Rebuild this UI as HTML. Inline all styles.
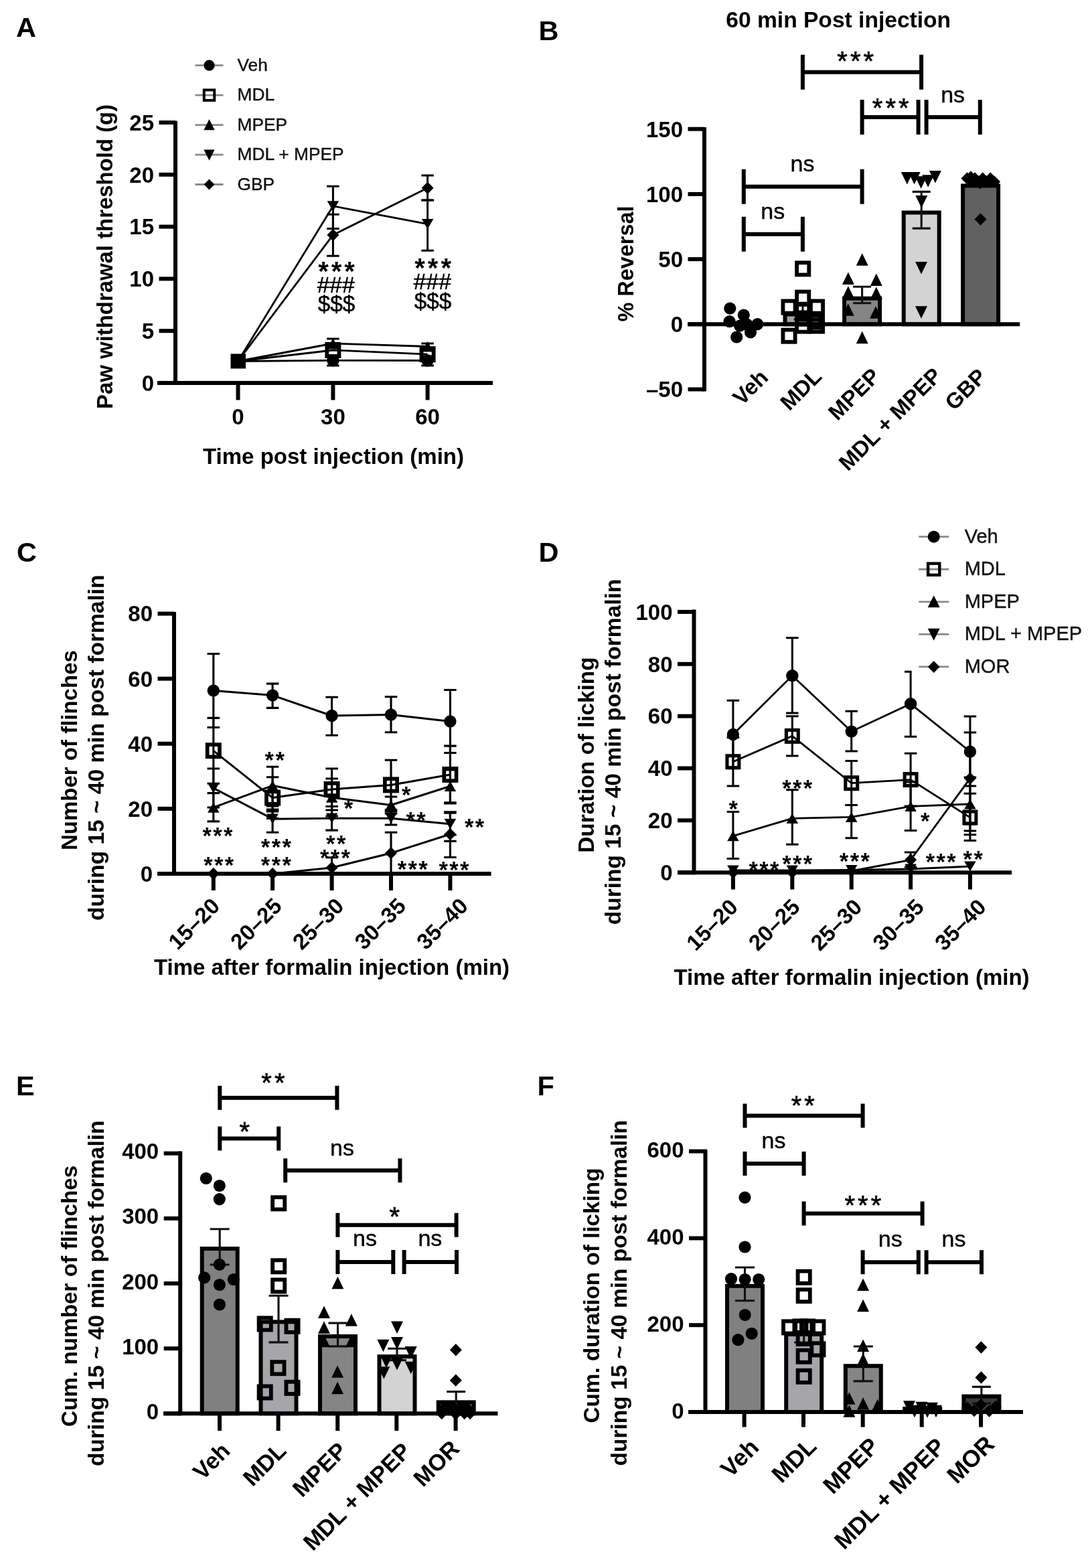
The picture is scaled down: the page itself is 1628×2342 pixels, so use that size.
<!DOCTYPE html>
<html lang="en"><head><meta charset="utf-8"><title>Figure</title>
<style>
html,body{margin:0;padding:0;background:#fff;}
body{width:1628px;height:2342px;overflow:hidden;}
svg{display:block;font-family:'Liberation Sans', Arial, Helvetica, sans-serif;}
</style></head><body>
<svg width="1628" height="2342" viewBox="0 0 1628 2342" role="img" aria-label="Figure panels A to F">
<rect width="1628" height="2342" fill="#fff"/>
<g id="fig">
<g id="panel-A">
<text x="24" y="55" font-size="41.5" font-weight="bold">A</text>
<path d="M262 180.5L262 575" stroke="#000" stroke-width="6"/>
<path d="M237.5 572L262 572" stroke="#000" stroke-width="6"/>
<text x="230" y="583.8" font-size="33" font-weight="bold" text-anchor="end">0</text>
<path d="M237.5 494.2L262 494.2" stroke="#000" stroke-width="6"/>
<text x="230" y="506" font-size="33" font-weight="bold" text-anchor="end">5</text>
<path d="M237.5 416.4L262 416.4" stroke="#000" stroke-width="6"/>
<text x="230" y="428.2" font-size="33" font-weight="bold" text-anchor="end">10</text>
<path d="M237.5 338.6L262 338.6" stroke="#000" stroke-width="6"/>
<text x="230" y="350.4" font-size="33" font-weight="bold" text-anchor="end">15</text>
<path d="M237.5 260.8L262 260.8" stroke="#000" stroke-width="6"/>
<text x="230" y="272.6" font-size="33" font-weight="bold" text-anchor="end">20</text>
<path d="M237.5 183L262 183" stroke="#000" stroke-width="6"/>
<text x="230" y="194.8" font-size="33" font-weight="bold" text-anchor="end">25</text>
<path d="M235 572L736 572" stroke="#000" stroke-width="6"/>
<path d="M355.5 572L355.5 597.5" stroke="#000" stroke-width="6"/>
<path d="M497.4 572L497.4 597.5" stroke="#000" stroke-width="6"/>
<path d="M638.6 572L638.6 597.5" stroke="#000" stroke-width="6"/>
<text x="355.5" y="634" font-size="33" font-weight="bold" text-anchor="middle">0</text>
<text x="497.4" y="634" font-size="33" font-weight="bold" text-anchor="middle">30</text>
<text x="638.6" y="634" font-size="33" font-weight="bold" text-anchor="middle">60</text>
<text x="498" y="692.7" font-size="33" font-weight="bold" text-anchor="middle">Time post injection (min)</text>
<text x="168.3" y="383.4" font-size="32.9" font-weight="bold" text-anchor="middle" transform="rotate(-90 168.3 383.4)">Paw withdrawal threshold (g)</text>
<path d="M291.5 97.7L333.5 97.7" stroke="#8a8a8a" stroke-width="2.8"/>
<circle cx="312.5" cy="97.7" r="8.1"/>
<text x="354.5" y="105.72" font-size="26.3" fill="#111" stroke="#111" stroke-width="0.4">Veh</text>
<path d="M291.5 142.15L333.5 142.15" stroke="#8a8a8a" stroke-width="2.8"/>
<rect x="304.76" y="134.41" width="15.48" height="15.48" fill="none" stroke="#000" stroke-width="3.96"/>
<text x="354.5" y="150.17" font-size="26.3" fill="#111" stroke="#111" stroke-width="0.4">MDL</text>
<path d="M291.5 186.6L333.5 186.6" stroke="#8a8a8a" stroke-width="2.8"/>
<path d="M312.5 178L320.6 194.2H304.4Z"/>
<text x="354.5" y="194.62" font-size="26.3" fill="#111" stroke="#111" stroke-width="0.4">MPEP</text>
<path d="M291.5 231.05L333.5 231.05" stroke="#8a8a8a" stroke-width="2.8"/>
<path d="M312.5 239.65L320.6 223.45H304.4Z"/>
<text x="354.5" y="239.07" font-size="26.3" fill="#111" stroke="#111" stroke-width="0.4">MDL + MPEP</text>
<path d="M291.5 275.5L333.5 275.5" stroke="#8a8a8a" stroke-width="2.8"/>
<path d="M312.5 267.4L320.38 275.5L312.5 283.6L304.62 275.5Z"/>
<text x="354.5" y="283.52" font-size="26.3" fill="#111" stroke="#111" stroke-width="0.4">GBP</text>
<polyline points="355.5,539.5 497.4,538.3 638.6,538.5" fill="none" stroke="#000" stroke-width="2.8" stroke-linejoin="round"/>
<polyline points="355.5,539.5 497.4,523 638.6,529.2" fill="none" stroke="#000" stroke-width="2.8" stroke-linejoin="round"/>
<polyline points="355.5,539.5 497.4,513 638.6,517.5" fill="none" stroke="#000" stroke-width="2.8" stroke-linejoin="round"/>
<polyline points="355.5,539.5 497.4,307.8 638.6,334.6" fill="none" stroke="#000" stroke-width="2.8" stroke-linejoin="round"/>
<polyline points="355.5,539.5 497.4,350.9 638.6,280.7" fill="none" stroke="#000" stroke-width="2.8" stroke-linejoin="round"/>
<path d="M497.4 278.2V341.5M488.15 278.2H506.65M488.15 341.5H506.65" fill="none" stroke="#000" stroke-width="3"/>
<path d="M497.4 320.3V382.2M488.15 320.3H506.65M488.15 382.2H506.65" fill="none" stroke="#000" stroke-width="3"/>
<path d="M638.6 262V299M629.35 262H647.85M629.35 299H647.85" fill="none" stroke="#000" stroke-width="3"/>
<path d="M638.6 299V374.2M629.35 299H647.85M629.35 374.2H647.85" fill="none" stroke="#000" stroke-width="3"/>
<path d="M497.4 506V520M488.15 506H506.65M488.15 520H506.65" fill="none" stroke="#000" stroke-width="3"/>
<path d="M638.6 513V524M629.35 513H647.85M629.35 524H647.85" fill="none" stroke="#000" stroke-width="3"/>
<path d="M497.4 531V546M488.15 531H506.65M488.15 546H506.65" fill="none" stroke="#000" stroke-width="3"/>
<path d="M638.6 532V546M629.35 532H647.85M629.35 546H647.85" fill="none" stroke="#000" stroke-width="3"/>
<circle cx="497.4" cy="538.3" r="9.2"/>
<circle cx="638.6" cy="538.5" r="9.2"/>
<path d="M497.4 505.4L506.15 520.6H488.65Z"/>
<path d="M638.6 509.9L647.35 525.1H629.85Z"/>
<rect x="488.32" y="513.92" width="18.15" height="18.15" fill="none" stroke="#000" stroke-width="5.85"/>
<rect x="629.52" y="520.12" width="18.15" height="18.15" fill="none" stroke="#000" stroke-width="5.85"/>
<path d="M497.4 315.4L506.15 300.2H488.65Z"/>
<path d="M638.6 342.2L647.35 327H629.85Z"/>
<path d="M497.4 341.65L506.4 350.9L497.4 360.15L488.4 350.9Z"/>
<path d="M638.6 271.45L647.6 280.7L638.6 289.95L629.6 280.7Z"/>
<rect x="344.5" y="528.5" width="22.5" height="22" fill="#000"/>
<text x="475.16" y="418.5" font-size="40" font-weight="bold" letter-spacing="4">***</text>
<text x="501.7" y="436.7" font-size="33.6" text-anchor="middle" stroke="#000" stroke-width="0.5">###</text>
<text x="502.5" y="465" font-size="33.3" text-anchor="middle" stroke="#000" stroke-width="0.5">$$$</text>
<text x="619.26" y="414" font-size="40" font-weight="bold" letter-spacing="4">***</text>
<text x="645.8" y="432.2" font-size="33.6" text-anchor="middle" stroke="#000" stroke-width="0.5">###</text>
<text x="646.6" y="460.5" font-size="33.3" text-anchor="middle" stroke="#000" stroke-width="0.5">$$$</text>
</g>
<g id="panel-B">
<text x="804.5" y="59.5" font-size="41.5" font-weight="bold">B</text>
<text x="1252.2" y="41.4" font-size="33.6" font-weight="bold" text-anchor="middle">60 min Post injection</text>
<path d="M1052 190L1052 584.5" stroke="#000" stroke-width="6"/>
<path d="M1027.5 581.5L1052 581.5" stroke="#000" stroke-width="6"/>
<text x="1020" y="593.3" font-size="33" font-weight="bold" text-anchor="end">–50</text>
<path d="M1027.5 484.3L1052 484.3" stroke="#000" stroke-width="6"/>
<text x="1020" y="496.1" font-size="33" font-weight="bold" text-anchor="end">0</text>
<path d="M1027.5 387.1L1052 387.1" stroke="#000" stroke-width="6"/>
<text x="1020" y="398.9" font-size="33" font-weight="bold" text-anchor="end">50</text>
<path d="M1027.5 289.9L1052 289.9" stroke="#000" stroke-width="6"/>
<text x="1020" y="301.7" font-size="33" font-weight="bold" text-anchor="end">100</text>
<path d="M1027.5 192.7L1052 192.7" stroke="#000" stroke-width="6"/>
<text x="1020" y="204.5" font-size="33" font-weight="bold" text-anchor="end">150</text>
<text x="945.7" y="394" font-size="32.4" font-weight="bold" text-anchor="middle" transform="rotate(-90 945.7 394)">% Reversal</text>
<rect x="1172.5" y="469.5" width="53" height="14.8" fill="#a5a5aa" stroke="#000" stroke-width="6"/>
<rect x="1261.1" y="445.7" width="53" height="38.6" fill="#858585" stroke="#000" stroke-width="6"/>
<rect x="1349.7" y="317.5" width="53" height="166.8" fill="#d3d3d3" stroke="#000" stroke-width="6"/>
<rect x="1438.1" y="277.4" width="53" height="206.9" fill="#616161" stroke="#000" stroke-width="6"/>
<path d="M1027 484.3L1523.2 484.3" stroke="#000" stroke-width="6"/>
<path d="M1287.6 428.2V452.8M1274.1 428.2H1301.1M1274.1 452.8H1301.1" fill="none" stroke="#111" stroke-width="3.1"/>
<path d="M1376.2 286.4V341.1M1362.7 286.4H1389.7M1362.7 341.1H1389.7" fill="none" stroke="#111" stroke-width="3.1"/>
<path d="M1199 456V477M1185.5 456H1212.5M1185.5 477H1212.5" fill="none" stroke="#111" stroke-width="3.1"/>
<circle cx="1090.3" cy="460.6" r="9.1"/>
<circle cx="1110.8" cy="470.6" r="9.1"/>
<circle cx="1089.6" cy="480.2" r="9.1"/>
<circle cx="1131.3" cy="484.1" r="9.1"/>
<circle cx="1105" cy="486.6" r="9.1"/>
<circle cx="1115.5" cy="484.5" r="9.1"/>
<circle cx="1121" cy="496.3" r="9.1"/>
<circle cx="1100.2" cy="503.5" r="9.1"/>
<rect x="1190.12" y="392.32" width="18.15" height="18.15" fill="none" stroke="#000" stroke-width="5.85"/>
<rect x="1190.12" y="435.62" width="18.15" height="18.15" fill="none" stroke="#000" stroke-width="5.85"/>
<rect x="1169.42" y="449.53" width="18.15" height="18.15" fill="none" stroke="#000" stroke-width="5.85"/>
<rect x="1210.92" y="449.53" width="18.15" height="18.15" fill="none" stroke="#000" stroke-width="5.85"/>
<rect x="1190.12" y="454.93" width="18.15" height="18.15" fill="none" stroke="#000" stroke-width="5.85"/>
<rect x="1190.12" y="466.43" width="18.15" height="18.15" fill="none" stroke="#000" stroke-width="5.85"/>
<rect x="1210.92" y="471.43" width="18.15" height="18.15" fill="none" stroke="#000" stroke-width="5.85"/>
<rect x="1190.12" y="477.53" width="18.15" height="18.15" fill="none" stroke="#000" stroke-width="5.85"/>
<rect x="1210.92" y="477.53" width="18.15" height="18.15" fill="none" stroke="#000" stroke-width="5.85"/>
<rect x="1169.42" y="492.62" width="18.15" height="18.15" fill="none" stroke="#000" stroke-width="5.85"/>
<path d="M1287.7 378.35L1296.7 396.85H1278.7Z"/>
<path d="M1266.9 406.45L1275.9 424.95H1257.9Z"/>
<path d="M1308.8 408.45L1317.8 426.95H1299.8Z"/>
<path d="M1266.9 427.25L1275.9 445.75H1257.9Z"/>
<path d="M1308.8 428.45L1317.8 446.95H1299.8Z"/>
<path d="M1266.8 453.35L1275.8 471.85H1257.8Z"/>
<path d="M1308 457.35L1317 475.85H1299Z"/>
<path d="M1287.7 494.85L1296.7 513.35H1278.7Z"/>
<path d="M1354.8 275.45L1363.8 256.95H1345.8Z"/>
<path d="M1365.6 275.45L1374.6 256.95H1356.6Z"/>
<path d="M1375.6 281.75L1384.6 263.25H1366.6Z"/>
<path d="M1386.1 279.75L1395.1 261.25H1377.1Z"/>
<path d="M1396.9 273.45L1405.9 254.95H1387.9Z"/>
<path d="M1376.3 310.45L1385.3 291.95H1367.3Z"/>
<path d="M1376 409.45L1385 390.95H1367Z"/>
<path d="M1376 475.75L1385 457.25H1367Z"/>
<path d="M1444.5 257.35L1453.5 266.6L1444.5 275.85L1435.5 266.6Z"/>
<path d="M1450.3 262.35L1459.3 271.6L1450.3 280.85L1441.3 271.6Z"/>
<path d="M1456.1 257.35L1465.1 266.6L1456.1 275.85L1447.1 266.6Z"/>
<path d="M1461.9 262.35L1470.9 271.6L1461.9 280.85L1452.9 271.6Z"/>
<path d="M1467.7 257.35L1476.7 266.6L1467.7 275.85L1458.7 266.6Z"/>
<path d="M1473.5 262.35L1482.5 271.6L1473.5 280.85L1464.5 271.6Z"/>
<path d="M1479.3 257.35L1488.3 266.6L1479.3 275.85L1470.3 266.6Z"/>
<path d="M1485.1 262.35L1494.1 271.6L1485.1 280.85L1476.1 271.6Z"/>
<path d="M1450 255.35L1459 264.6L1450 273.85L1441 264.6Z"/>
<path d="M1464 264.05L1473 273.3L1464 282.55L1455 273.3Z"/>
<path d="M1464.5 318.35L1473.5 327.6L1464.5 336.85L1455.5 327.6Z"/>
<path d="M1198.9 107.8H1376.1M1198.9 81.8V133.8M1376.1 81.8V133.8" fill="none" stroke="#000" stroke-width="6"/>
<text x="1250.36" y="104.9" font-size="40" stroke="#000" stroke-width="0.7" letter-spacing="4">***</text>
<path d="M1287.6 174.9H1371.6M1287.6 148.9V200.9M1371.6 148.9V200.9" fill="none" stroke="#000" stroke-width="6"/>
<text x="1302.86" y="175.1" font-size="40" stroke="#000" stroke-width="0.7" letter-spacing="4">***</text>
<path d="M1383.6 174.9H1463.8M1383.6 148.9V200.9M1463.8 148.9V200.9" fill="none" stroke="#000" stroke-width="6"/>
<text x="1423.1" y="152.9" font-size="34" text-anchor="middle" stroke="#000" stroke-width="0.4">ns</text>
<path d="M1110.8 278.7H1287.6M1110.8 252.7V304.7M1287.6 252.7V304.7" fill="none" stroke="#000" stroke-width="6"/>
<text x="1198.5" y="256.1" font-size="34" text-anchor="middle" stroke="#000" stroke-width="0.4">ns</text>
<path d="M1110.8 349.8H1198.9M1110.8 323.8V375.8M1198.9 323.8V375.8" fill="none" stroke="#000" stroke-width="6"/>
<text x="1154.2" y="327" font-size="34" text-anchor="middle" stroke="#000" stroke-width="0.4">ns</text>
<text x="1149.2" y="565.8" font-size="32.8" font-weight="bold" text-anchor="end" transform="rotate(-45 1149.2 565.8)">Veh</text>
<text x="1229.3" y="564.4" font-size="32.8" font-weight="bold" text-anchor="end" transform="rotate(-45 1229.3 564.4)">MDL</text>
<text x="1316.4" y="563.7" font-size="32.8" font-weight="bold" text-anchor="end" transform="rotate(-45 1316.4 563.7)">MPEP</text>
<text x="1408.4" y="562.9" font-size="32.8" font-weight="bold" text-anchor="end" transform="rotate(-45 1408.4 562.9)">MDL + MPEP</text>
<text x="1475.2" y="564.2" font-size="32.8" font-weight="bold" text-anchor="end" transform="rotate(-45 1475.2 564.2)">GBP</text>
</g>
<g id="panel-C">
<text x="25" y="839" font-size="41.5" font-weight="bold">C</text>
<path d="M260 914L260 1308" stroke="#000" stroke-width="6"/>
<path d="M235.5 1305L260 1305" stroke="#000" stroke-width="6"/>
<text x="228" y="1316.8" font-size="33" font-weight="bold" text-anchor="end">0</text>
<path d="M235.5 1207.9L260 1207.9" stroke="#000" stroke-width="6"/>
<text x="228" y="1219.7" font-size="33" font-weight="bold" text-anchor="end">20</text>
<path d="M235.5 1110.8L260 1110.8" stroke="#000" stroke-width="6"/>
<text x="228" y="1122.6" font-size="33" font-weight="bold" text-anchor="end">40</text>
<path d="M235.5 1013.7L260 1013.7" stroke="#000" stroke-width="6"/>
<text x="228" y="1025.5" font-size="33" font-weight="bold" text-anchor="end">60</text>
<path d="M235.5 916.6L260 916.6" stroke="#000" stroke-width="6"/>
<text x="228" y="928.4" font-size="33" font-weight="bold" text-anchor="end">80</text>
<text x="115.1" y="1120.6" font-size="33" font-weight="bold" text-anchor="middle" transform="rotate(-90 115.1 1120.6)">Number of flinches</text>
<text x="155.5" y="1116.8" font-size="33.5" font-weight="bold" text-anchor="middle" transform="rotate(-90 155.5 1116.8)">during 15 ~ 40 min post formalin</text>
<polyline points="318.8,1031.4 407.1,1038.6 495.6,1069 584,1067.5 672.4,1077.5" fill="none" stroke="#000" stroke-width="3" stroke-linejoin="round"/>
<polyline points="318.8,1121.3 407.1,1191.6 495.6,1179 584,1172.4 672.4,1157" fill="none" stroke="#000" stroke-width="3" stroke-linejoin="round"/>
<polyline points="318.8,1206.2 407.1,1173.3 495.6,1191.2 584,1202.5 672.4,1174.3" fill="none" stroke="#000" stroke-width="3" stroke-linejoin="round"/>
<polyline points="318.8,1177.1 407.1,1223.2 495.6,1222.2 584,1222.2 672.4,1230.7" fill="none" stroke="#000" stroke-width="3" stroke-linejoin="round"/>
<polyline points="318.8,1305 407.1,1305 495.6,1295.9 584,1274.2 672.4,1246" fill="none" stroke="#000" stroke-width="3" stroke-linejoin="round"/>
<path d="M318.8 976.5V1086.5M309.55 976.5H328.05M309.55 1086.5H328.05" fill="none" stroke="#000" stroke-width="3.1"/>
<path d="M318.8 1072.4V1170.3M309.55 1072.4H328.05M309.55 1170.3H328.05" fill="none" stroke="#000" stroke-width="3.1"/>
<path d="M318.8 1148V1206M309.55 1148H328.05M309.55 1206H328.05" fill="none" stroke="#000" stroke-width="3.1"/>
<path d="M318.8 1184.6V1226.9M309.55 1184.6H328.05M309.55 1226.9H328.05" fill="none" stroke="#000" stroke-width="3.1"/>
<path d="M407.1 1021.1V1057.4M397.85 1021.1H416.35M397.85 1057.4H416.35" fill="none" stroke="#000" stroke-width="3.1"/>
<path d="M407.1 1145.2V1201.4M397.85 1145.2H416.35M397.85 1201.4H416.35" fill="none" stroke="#000" stroke-width="3.1"/>
<path d="M407.1 1160.8V1222.4M397.85 1160.8H416.35M397.85 1222.4H416.35" fill="none" stroke="#000" stroke-width="3.1"/>
<path d="M407.1 1204V1243.3M397.85 1204H416.35M397.85 1243.3H416.35" fill="none" stroke="#000" stroke-width="3.1"/>
<path d="M407.1 1209V1212M397.85 1209H416.35M397.85 1212H416.35" fill="none" stroke="#000" stroke-width="3.1"/>
<path d="M495.6 1041.2V1098.2M486.35 1041.2H504.85M486.35 1098.2H504.85" fill="none" stroke="#000" stroke-width="3.1"/>
<path d="M495.6 1148V1210M486.35 1148H504.85M486.35 1210H504.85" fill="none" stroke="#000" stroke-width="3.1"/>
<path d="M495.6 1163V1219M486.35 1163H504.85M486.35 1219H504.85" fill="none" stroke="#000" stroke-width="3.1"/>
<path d="M495.6 1204.5V1240.1M486.35 1204.5H504.85M486.35 1240.1H504.85" fill="none" stroke="#000" stroke-width="3.1"/>
<path d="M495.6 1280.8V1305M486.35 1280.8H504.85M486.35 1305H504.85" fill="none" stroke="#000" stroke-width="3.1"/>
<path d="M584 1040.8V1093.8M574.75 1040.8H593.25M574.75 1093.8H593.25" fill="none" stroke="#000" stroke-width="3.1"/>
<path d="M584 1135.2V1209.6M574.75 1135.2H593.25M574.75 1209.6H593.25" fill="none" stroke="#000" stroke-width="3.1"/>
<path d="M584 1190V1215M574.75 1190H593.25M574.75 1215H593.25" fill="none" stroke="#000" stroke-width="3.1"/>
<path d="M584 1212V1232M574.75 1212H593.25M574.75 1232H593.25" fill="none" stroke="#000" stroke-width="3.1"/>
<path d="M584 1243.2V1305M574.75 1243.2H593.25M574.75 1305H593.25" fill="none" stroke="#000" stroke-width="3.1"/>
<path d="M672.4 1030.5V1124.5M663.15 1030.5H681.65M663.15 1124.5H681.65" fill="none" stroke="#000" stroke-width="3.1"/>
<path d="M672.4 1114.1V1199.9M663.15 1114.1H681.65M663.15 1199.9H681.65" fill="none" stroke="#000" stroke-width="3.1"/>
<path d="M672.4 1150V1198.7M663.15 1150H681.65M663.15 1198.7H681.65" fill="none" stroke="#000" stroke-width="3.1"/>
<path d="M672.4 1212.8V1280.5M663.15 1212.8H681.65M663.15 1280.5H681.65" fill="none" stroke="#000" stroke-width="3.1"/>
<path d="M672.4 1214.1V1247M663.15 1214.1H681.65M663.15 1247H681.65" fill="none" stroke="#000" stroke-width="3.1"/>
<path d="M672.4 1256.4V1256.4M663.15 1256.4H681.65M663.15 1256.4H681.65" fill="none" stroke="#000" stroke-width="3.1"/>
<path d="M235 1305L733.5 1305" stroke="#000" stroke-width="6"/>
<path d="M318.8 1305L318.8 1330" stroke="#000" stroke-width="6"/>
<path d="M407.1 1305L407.1 1330" stroke="#000" stroke-width="6"/>
<path d="M495.6 1305L495.6 1330" stroke="#000" stroke-width="6"/>
<path d="M584 1305L584 1330" stroke="#000" stroke-width="6"/>
<path d="M672.4 1305L672.4 1330" stroke="#000" stroke-width="6"/>
<circle cx="318.8" cy="1031.4" r="9.2"/>
<circle cx="407.1" cy="1038.6" r="9.2"/>
<circle cx="495.6" cy="1069" r="9.2"/>
<circle cx="584" cy="1067.5" r="9.2"/>
<circle cx="672.4" cy="1077.5" r="9.2"/>
<path d="M318.8 1198.6L327.55 1213.8H310.05Z"/>
<path d="M407.1 1165.7L415.85 1180.9H398.35Z"/>
<path d="M495.6 1183.6L504.35 1198.8H486.85Z"/>
<path d="M584 1194.9L592.75 1210.1H575.25Z"/>
<path d="M672.4 1166.7L681.15 1181.9H663.65Z"/>
<path d="M318.8 1184.7L327.55 1169.5H310.05Z"/>
<path d="M407.1 1230.8L415.85 1215.6H398.35Z"/>
<path d="M495.6 1229.8L504.35 1214.6H486.85Z"/>
<path d="M584 1229.8L592.75 1214.6H575.25Z"/>
<path d="M672.4 1238.3L681.15 1223.1H663.65Z"/>
<path d="M318.8 1295.75L327.8 1305L318.8 1314.25L309.8 1305Z"/>
<path d="M407.1 1295.75L416.1 1305L407.1 1314.25L398.1 1305Z"/>
<path d="M495.6 1286.65L504.6 1295.9L495.6 1305.15L486.6 1295.9Z"/>
<path d="M584 1264.95L593 1274.2L584 1283.45L575 1274.2Z"/>
<path d="M672.4 1236.75L681.4 1246L672.4 1255.25L663.4 1246Z"/>
<rect x="309.65" y="1112.15" width="18.3" height="18.3" fill="none" stroke="#000" stroke-width="5.7"/>
<rect x="397.95" y="1182.45" width="18.3" height="18.3" fill="none" stroke="#000" stroke-width="5.7"/>
<rect x="486.45" y="1169.85" width="18.3" height="18.3" fill="none" stroke="#000" stroke-width="5.7"/>
<rect x="574.85" y="1163.25" width="18.3" height="18.3" fill="none" stroke="#000" stroke-width="5.7"/>
<rect x="663.25" y="1147.85" width="18.3" height="18.3" fill="none" stroke="#000" stroke-width="5.7"/>
<text x="302.47" y="1259.75" font-size="34.5" font-weight="bold" letter-spacing="2.4">***</text>
<text x="304.17" y="1304.25" font-size="34.5" font-weight="bold" letter-spacing="2.4">***</text>
<text x="395.58" y="1147.25" font-size="34.5" font-weight="bold" letter-spacing="2.4">**</text>
<text x="389.87" y="1276.95" font-size="34.5" font-weight="bold" letter-spacing="2.4">***</text>
<text x="389.87" y="1304.25" font-size="34.5" font-weight="bold" letter-spacing="2.4">***</text>
<text x="513.79" y="1218.75" font-size="34.5" font-weight="bold">*</text>
<text x="487.08" y="1272.05" font-size="34.5" font-weight="bold" letter-spacing="2.4">**</text>
<text x="477.97" y="1293.25" font-size="34.5" font-weight="bold" letter-spacing="2.4">***</text>
<text x="599.89" y="1199.05" font-size="34.5" font-weight="bold">*</text>
<text x="606.38" y="1236.55" font-size="34.5" font-weight="bold" letter-spacing="2.4">**</text>
<text x="593.67" y="1309.85" font-size="34.5" font-weight="bold" letter-spacing="2.4">***</text>
<text x="693.98" y="1247.05" font-size="34.5" font-weight="bold" letter-spacing="2.4">**</text>
<text x="655.47" y="1311.25" font-size="34.5" font-weight="bold" letter-spacing="2.4">***</text>
<text x="330.2" y="1355.3" font-size="33" font-weight="bold" text-anchor="end" transform="rotate(-45 330.2 1355.3)">15–20</text>
<text x="422.9" y="1355.3" font-size="33" font-weight="bold" text-anchor="end" transform="rotate(-45 422.9 1355.3)">20–25</text>
<text x="515.6" y="1355.3" font-size="33" font-weight="bold" text-anchor="end" transform="rotate(-45 515.6 1355.3)">25–30</text>
<text x="608.3" y="1355.3" font-size="33" font-weight="bold" text-anchor="end" transform="rotate(-45 608.3 1355.3)">30–35</text>
<text x="701" y="1355.3" font-size="33" font-weight="bold" text-anchor="end" transform="rotate(-45 701 1355.3)">35–40</text>
<text x="495.5" y="1455.6" font-size="33" font-weight="bold" text-anchor="middle">Time after formalin injection (min)</text>
</g>
<g id="panel-D">
<text x="804.5" y="839" font-size="41.5" font-weight="bold">D</text>
<path d="M1036.5 910.5L1036.5 1306.2" stroke="#000" stroke-width="6"/>
<path d="M1012 1303.2L1036.5 1303.2" stroke="#000" stroke-width="6"/>
<text x="1004.5" y="1315" font-size="33" font-weight="bold" text-anchor="end">0</text>
<path d="M1012 1225.35L1036.5 1225.35" stroke="#000" stroke-width="6"/>
<text x="1004.5" y="1237.15" font-size="33" font-weight="bold" text-anchor="end">20</text>
<path d="M1012 1147.5L1036.5 1147.5" stroke="#000" stroke-width="6"/>
<text x="1004.5" y="1159.3" font-size="33" font-weight="bold" text-anchor="end">40</text>
<path d="M1012 1069.65L1036.5 1069.65" stroke="#000" stroke-width="6"/>
<text x="1004.5" y="1081.45" font-size="33" font-weight="bold" text-anchor="end">60</text>
<path d="M1012 991.8L1036.5 991.8" stroke="#000" stroke-width="6"/>
<text x="1004.5" y="1003.6" font-size="33" font-weight="bold" text-anchor="end">80</text>
<path d="M1012 913.95L1036.5 913.95" stroke="#000" stroke-width="6"/>
<text x="1004.5" y="925.75" font-size="33" font-weight="bold" text-anchor="end">100</text>
<text x="887" y="1127.6" font-size="33.3" font-weight="bold" text-anchor="middle" transform="rotate(-90 887 1127.6)">Duration of licking</text>
<text x="927.1" y="1123" font-size="33.5" font-weight="bold" text-anchor="middle" transform="rotate(-90 927.1 1123)">during 15 ~ 40 min post formalin</text>
<polyline points="1094.9,1097 1183.3,1009.2 1271.7,1092.6 1360.1,1051.3 1448.9,1122.7" fill="none" stroke="#000" stroke-width="2.8" stroke-linejoin="round"/>
<polyline points="1094.9,1137.7 1183.3,1099.4 1271.7,1169.7 1360.1,1164.6 1448.9,1221" fill="none" stroke="#000" stroke-width="2.8" stroke-linejoin="round"/>
<polyline points="1094.9,1248.6 1183.3,1222.3 1271.7,1220.4 1360.1,1204.4 1448.9,1201" fill="none" stroke="#000" stroke-width="2.8" stroke-linejoin="round"/>
<polyline points="1094.9,1300 1183.3,1300 1271.7,1299.5 1360.1,1298 1448.9,1294" fill="none" stroke="#000" stroke-width="2.8" stroke-linejoin="round"/>
<polyline points="1094.9,1303 1183.3,1303 1271.7,1301 1360.1,1284.3 1448.9,1162.7" fill="none" stroke="#000" stroke-width="2.8" stroke-linejoin="round"/>
<path d="M1094.9 1046.2V1147.8M1085.65 1046.2H1104.15M1085.65 1147.8H1104.15" fill="none" stroke="#000" stroke-width="3"/>
<path d="M1094.9 1101.4V1174M1085.65 1101.4H1104.15M1085.65 1174H1104.15" fill="none" stroke="#000" stroke-width="3"/>
<path d="M1094.9 1212.6V1282.4M1085.65 1212.6H1104.15M1085.65 1282.4H1104.15" fill="none" stroke="#000" stroke-width="3"/>
<path d="M1183.3 952.8V1065M1174.05 952.8H1192.55M1174.05 1065H1192.55" fill="none" stroke="#000" stroke-width="3"/>
<path d="M1183.3 1069.7V1128.9M1174.05 1069.7H1192.55M1174.05 1128.9H1192.55" fill="none" stroke="#000" stroke-width="3"/>
<path d="M1183.3 1179.7V1261.2M1174.05 1179.7H1192.55M1174.05 1261.2H1192.55" fill="none" stroke="#000" stroke-width="3"/>
<path d="M1271.7 1062.2V1122M1262.45 1062.2H1280.95M1262.45 1122H1280.95" fill="none" stroke="#000" stroke-width="3"/>
<path d="M1271.7 1136.4V1202.4M1262.45 1136.4H1280.95M1262.45 1202.4H1280.95" fill="none" stroke="#000" stroke-width="3"/>
<path d="M1271.7 1202.4V1251.8M1262.45 1202.4H1280.95M1262.45 1251.8H1280.95" fill="none" stroke="#000" stroke-width="3"/>
<path d="M1360.1 1100.2V1100.2M1350.85 1100.2H1369.35M1350.85 1100.2H1369.35" fill="none" stroke="#000" stroke-width="3"/>
<path d="M1360.1 1125.2V1204M1350.85 1125.2H1369.35M1350.85 1204H1369.35" fill="none" stroke="#000" stroke-width="3"/>
<path d="M1360.1 1168V1240.5M1350.85 1168H1369.35M1350.85 1240.5H1369.35" fill="none" stroke="#000" stroke-width="3"/>
<path d="M1360.1 1273V1295M1350.85 1273H1369.35M1350.85 1295H1369.35" fill="none" stroke="#000" stroke-width="3"/>
<path d="M1448.9 1070.1V1174M1439.65 1070.1H1458.15M1439.65 1174H1458.15" fill="none" stroke="#000" stroke-width="3"/>
<path d="M1448.9 1094.1V1231M1439.65 1094.1H1458.15M1439.65 1231H1458.15" fill="none" stroke="#000" stroke-width="3"/>
<path d="M1448.9 1185.3V1255.6M1439.65 1185.3H1458.15M1439.65 1255.6H1458.15" fill="none" stroke="#000" stroke-width="3"/>
<path d="M1448.9 1161V1241.1M1439.65 1161H1458.15M1439.65 1241.1H1458.15" fill="none" stroke="#000" stroke-width="3"/>
<path d="M1448.9 1246.7V1246.7M1439.65 1246.7H1458.15M1439.65 1246.7H1458.15" fill="none" stroke="#000" stroke-width="3"/>
<path d="M1360.1 1100.2V1003.3H1351.1" fill="none" stroke="#000" stroke-width="3"/>
<path d="M1012 1303.2L1511 1303.2" stroke="#000" stroke-width="6"/>
<path d="M1094.9 1303.2L1094.9 1328.5" stroke="#000" stroke-width="6"/>
<path d="M1183.3 1303.2L1183.3 1328.5" stroke="#000" stroke-width="6"/>
<path d="M1271.7 1303.2L1271.7 1328.5" stroke="#000" stroke-width="6"/>
<path d="M1360.1 1303.2L1360.1 1328.5" stroke="#000" stroke-width="6"/>
<path d="M1448.9 1303.2L1448.9 1328.5" stroke="#000" stroke-width="6"/>
<circle cx="1094.9" cy="1097" r="9.2"/>
<circle cx="1183.3" cy="1009.2" r="9.2"/>
<circle cx="1271.7" cy="1092.6" r="9.2"/>
<circle cx="1360.1" cy="1051.3" r="9.2"/>
<circle cx="1448.9" cy="1122.7" r="9.2"/>
<path d="M1094.9 1241L1103.65 1256.2H1086.15Z"/>
<path d="M1183.3 1214.7L1192.05 1229.9H1174.55Z"/>
<path d="M1271.7 1212.8L1280.45 1228H1262.95Z"/>
<path d="M1360.1 1196.8L1368.85 1212H1351.35Z"/>
<path d="M1448.9 1193.4L1457.65 1208.6H1440.15Z"/>
<path d="M1094.9 1307.6L1103.65 1292.4H1086.15Z"/>
<path d="M1183.3 1307.6L1192.05 1292.4H1174.55Z"/>
<path d="M1271.7 1307.1L1280.45 1291.9H1262.95Z"/>
<path d="M1360.1 1305.6L1368.85 1290.4H1351.35Z"/>
<path d="M1448.9 1301.6L1457.65 1286.4H1440.15Z"/>
<path d="M1094.9 1293.75L1103.9 1303L1094.9 1312.25L1085.9 1303Z"/>
<path d="M1183.3 1293.75L1192.3 1303L1183.3 1312.25L1174.3 1303Z"/>
<path d="M1271.7 1291.75L1280.7 1301L1271.7 1310.25L1262.7 1301Z"/>
<path d="M1360.1 1275.05L1369.1 1284.3L1360.1 1293.55L1351.1 1284.3Z"/>
<path d="M1448.9 1153.45L1457.9 1162.7L1448.9 1171.95L1439.9 1162.7Z"/>
<rect x="1085.95" y="1128.75" width="17.9" height="17.9" fill="none" stroke="#000" stroke-width="5.1"/>
<rect x="1174.35" y="1090.45" width="17.9" height="17.9" fill="none" stroke="#000" stroke-width="5.1"/>
<rect x="1262.75" y="1160.75" width="17.9" height="17.9" fill="none" stroke="#000" stroke-width="5.1"/>
<rect x="1351.15" y="1155.65" width="17.9" height="17.9" fill="none" stroke="#000" stroke-width="5.1"/>
<rect x="1439.95" y="1212.05" width="17.9" height="17.9" fill="none" stroke="#000" stroke-width="5.1"/>
<text x="1088.59" y="1219.55" font-size="34.5" font-weight="bold">*</text>
<text x="1118.47" y="1310.95" font-size="34.5" font-weight="bold" letter-spacing="2.4">***</text>
<text x="1168.17" y="1189.45" font-size="34.5" font-weight="bold" letter-spacing="2.4">***</text>
<text x="1168.17" y="1301.55" font-size="34.5" font-weight="bold" letter-spacing="2.4">***</text>
<text x="1253.87" y="1298.45" font-size="34.5" font-weight="bold" letter-spacing="2.4">***</text>
<text x="1375.09" y="1237.85" font-size="34.5" font-weight="bold">*</text>
<text x="1382.67" y="1298.65" font-size="34.5" font-weight="bold" letter-spacing="2.4">***</text>
<text x="1438.58" y="1294.55" font-size="34.5" font-weight="bold" letter-spacing="2.4">**</text>
<text x="1104" y="1356.8" font-size="33" font-weight="bold" text-anchor="end" transform="rotate(-45 1104 1356.8)">15–20</text>
<text x="1196.7" y="1356.8" font-size="33" font-weight="bold" text-anchor="end" transform="rotate(-45 1196.7 1356.8)">20–25</text>
<text x="1289.4" y="1356.8" font-size="33" font-weight="bold" text-anchor="end" transform="rotate(-45 1289.4 1356.8)">25–30</text>
<text x="1382.1" y="1356.8" font-size="33" font-weight="bold" text-anchor="end" transform="rotate(-45 1382.1 1356.8)">30–35</text>
<text x="1474.8" y="1356.8" font-size="33" font-weight="bold" text-anchor="end" transform="rotate(-45 1474.8 1356.8)">35–40</text>
<text x="1272" y="1471" font-size="33" font-weight="bold" text-anchor="middle">Time after formalin injection (min)</text>
<path d="M1372.2 801.7L1417.2 801.7" stroke="#8a8a8a" stroke-width="2.8"/>
<circle cx="1394.7" cy="801.7" r="9"/>
<text x="1440.7" y="810.68" font-size="29" fill="#111" stroke="#111" stroke-width="0.4">Veh</text>
<path d="M1372.2 850.25L1417.2 850.25" stroke="#8a8a8a" stroke-width="2.8"/>
<rect x="1386.1" y="841.65" width="17.2" height="17.2" fill="none" stroke="#000" stroke-width="4.4"/>
<text x="1440.7" y="859.23" font-size="29" fill="#111" stroke="#111" stroke-width="0.4">MDL</text>
<path d="M1372.2 898.8L1417.2 898.8" stroke="#8a8a8a" stroke-width="2.8"/>
<path d="M1394.7 889.3L1403.7 907.3H1385.7Z"/>
<text x="1440.7" y="907.78" font-size="29" fill="#111" stroke="#111" stroke-width="0.4">MPEP</text>
<path d="M1372.2 947.35L1417.2 947.35" stroke="#8a8a8a" stroke-width="2.8"/>
<path d="M1394.7 956.85L1403.7 938.85H1385.7Z"/>
<text x="1440.7" y="956.33" font-size="29" fill="#111" stroke="#111" stroke-width="0.4">MDL + MPEP</text>
<path d="M1372.2 995.9L1417.2 995.9" stroke="#8a8a8a" stroke-width="2.8"/>
<path d="M1394.7 986.9L1403.45 995.9L1394.7 1004.9L1385.95 995.9Z"/>
<text x="1440.7" y="1004.88" font-size="29" fill="#111" stroke="#111" stroke-width="0.4">MOR</text>
</g>
<g id="panel-E">
<text x="24" y="1636" font-size="41.5" font-weight="bold">E</text>
<path d="M269.2 1719.6L269.2 2114.3" stroke="#000" stroke-width="6"/>
<path d="M244.7 2111.3L269.2 2111.3" stroke="#000" stroke-width="6"/>
<text x="237.2" y="2119.9" font-size="33" font-weight="bold" text-anchor="end">0</text>
<path d="M244.7 2014.15L269.2 2014.15" stroke="#000" stroke-width="6"/>
<text x="237.2" y="2022.75" font-size="33" font-weight="bold" text-anchor="end">100</text>
<path d="M244.7 1917L269.2 1917" stroke="#000" stroke-width="6"/>
<text x="237.2" y="1925.6" font-size="33" font-weight="bold" text-anchor="end">200</text>
<path d="M244.7 1819.85L269.2 1819.85" stroke="#000" stroke-width="6"/>
<text x="237.2" y="1828.45" font-size="33" font-weight="bold" text-anchor="end">300</text>
<path d="M244.7 1722.7L269.2 1722.7" stroke="#000" stroke-width="6"/>
<text x="237.2" y="1731.3" font-size="33" font-weight="bold" text-anchor="end">400</text>
<text x="114.9" y="1935.9" font-size="33.3" font-weight="bold" text-anchor="middle" transform="rotate(-90 114.9 1935.9)">Cum. number of flinches</text>
<text x="155" y="1931.7" font-size="33.5" font-weight="bold" text-anchor="middle" transform="rotate(-90 155 1931.7)">during 15 ~ 40 min post formalin</text>
<rect x="301.7" y="1865" width="53" height="246.3" fill="#808080" stroke="#000" stroke-width="6"/>
<rect x="389.5" y="1974.4" width="53" height="136.9" fill="#a5a5aa" stroke="#000" stroke-width="6"/>
<rect x="478" y="1996" width="53" height="115.3" fill="#858585" stroke="#000" stroke-width="6"/>
<rect x="566.5" y="2026.1" width="53" height="85.2" fill="#d3d3d3" stroke="#000" stroke-width="6"/>
<rect x="654.7" y="2094.4" width="53" height="16.9" fill="#616161" stroke="#000" stroke-width="6"/>
<path d="M244 2111.3L743.4 2111.3" stroke="#000" stroke-width="6"/>
<path d="M328 2111.3L328 2137.1" stroke="#000" stroke-width="6"/>
<path d="M415.6 2111.3L415.6 2137.1" stroke="#000" stroke-width="6"/>
<path d="M504.2 2111.3L504.2 2137.1" stroke="#000" stroke-width="6"/>
<path d="M592.3 2111.3L592.3 2137.1" stroke="#000" stroke-width="6"/>
<path d="M680.6 2111.3L680.6 2137.1" stroke="#000" stroke-width="6"/>
<path d="M328.2 1835.7V1889M313.7 1835.7H342.7M313.7 1889H342.7" fill="none" stroke="#111" stroke-width="3.1"/>
<path d="M416 1935.3V2004.9M401.5 1935.3H430.5M401.5 2004.9H430.5" fill="none" stroke="#111" stroke-width="3.1"/>
<path d="M504.5 1976.1V2010.9M490.5 1976.1H518.5M490.5 2010.9H518.5" fill="none" stroke="#111" stroke-width="3.1"/>
<path d="M593 2014.3V2031.6M579 2014.3H607M579 2031.6H607" fill="none" stroke="#111" stroke-width="3.1"/>
<path d="M681.2 2078.6V2104M667.2 2078.6H695.2M667.2 2104H695.2" fill="none" stroke="#111" stroke-width="3.1"/>
<circle cx="307.8" cy="1760" r="9.1"/>
<circle cx="327.8" cy="1771" r="9.1"/>
<circle cx="327.8" cy="1791.1" r="9.1"/>
<circle cx="327.8" cy="1888.8" r="9.1"/>
<circle cx="305.2" cy="1908.4" r="9.1"/>
<circle cx="348.8" cy="1911" r="9.1"/>
<circle cx="327.9" cy="1919" r="9.1"/>
<circle cx="327.9" cy="1948.5" r="9.1"/>
<rect x="407.12" y="1788.22" width="18.15" height="18.15" fill="none" stroke="#000" stroke-width="5.85"/>
<rect x="407.12" y="1882.22" width="18.15" height="18.15" fill="none" stroke="#000" stroke-width="5.85"/>
<rect x="407.12" y="1911.33" width="18.15" height="18.15" fill="none" stroke="#000" stroke-width="5.85"/>
<rect x="386.62" y="1968.33" width="18.15" height="18.15" fill="none" stroke="#000" stroke-width="5.85"/>
<rect x="427.43" y="1971.72" width="18.15" height="18.15" fill="none" stroke="#000" stroke-width="5.85"/>
<rect x="406.32" y="2034.12" width="18.15" height="18.15" fill="none" stroke="#000" stroke-width="5.85"/>
<rect x="386.62" y="2070.43" width="18.15" height="18.15" fill="none" stroke="#000" stroke-width="5.85"/>
<rect x="427.43" y="2063.83" width="18.15" height="18.15" fill="none" stroke="#000" stroke-width="5.85"/>
<path d="M504.4 1906.75L513.4 1925.25H495.4Z"/>
<path d="M484 1950.55L493 1969.05H475Z"/>
<path d="M524.8 1962.15L533.8 1980.65H515.8Z"/>
<path d="M484 1973.45L493 1991.95H475Z"/>
<path d="M484 1993.75L493 2012.25H475Z"/>
<path d="M524.8 1993.75L533.8 2012.25H515.8Z"/>
<path d="M504.1 2039.25L513.1 2057.75H495.1Z"/>
<path d="M504.1 2063.65L513.1 2082.15H495.1Z"/>
<path d="M593 1991.95L602 1973.45H584Z"/>
<path d="M572.4 2019.25L581.4 2000.75H563.4Z"/>
<path d="M593 2015.45L602 1996.95H584Z"/>
<path d="M613.7 2029.55L622.7 2011.05H604.7Z"/>
<path d="M593 2046.45L602 2027.95H584Z"/>
<path d="M613.7 2052.15L622.7 2033.65H604.7Z"/>
<path d="M573.3 2059.65L582.3 2041.15H564.3Z"/>
<path d="M577 2043.25L586 2024.75H568Z"/>
<path d="M680.8 2006.95L689.8 2016.2L680.8 2025.45L671.8 2016.2Z"/>
<path d="M680.8 2052.45L689.8 2061.7L680.8 2070.95L671.8 2061.7Z"/>
<path d="M659.8 2101.75L668.8 2111L659.8 2120.25L650.8 2111Z"/>
<path d="M668 2093.25L677 2102.5L668 2111.75L659 2102.5Z"/>
<path d="M680.5 2102.75L689.5 2112L680.5 2121.25L671.5 2112Z"/>
<path d="M693.6 2101.75L702.6 2111L693.6 2120.25L684.6 2111Z"/>
<path d="M702 2101.75L711 2111L702 2120.25L693 2111Z"/>
<path d="M688 2093.25L697 2102.5L688 2111.75L679 2102.5Z"/>
<path d="M676 2092.75L685 2102L676 2111.25L667 2102Z"/>
<path d="M697 2093.25L706 2102.5L697 2111.75L688 2102.5Z"/>
<path d="M663 2093.75L672 2103L663 2112.25L654 2103Z"/>
<path d="M328.3 1639.7H503.4M328.3 1621.7V1657.7M503.4 1621.7V1657.7" fill="none" stroke="#000" stroke-width="6"/>
<text x="390.34" y="1631.4" font-size="40" stroke="#000" stroke-width="0.7" letter-spacing="4">**</text>
<path d="M328.3 1700.4H416.2M328.3 1682.4V1718.4M416.2 1682.4V1718.4" fill="none" stroke="#000" stroke-width="6"/>
<text x="357.52" y="1704.1" font-size="40" stroke="#000" stroke-width="0.7">*</text>
<path d="M426.2 1748.3H597.4M426.2 1730.3V1766.3M597.4 1730.3V1766.3" fill="none" stroke="#000" stroke-width="6"/>
<text x="511" y="1725.9" font-size="34" text-anchor="middle" stroke="#000" stroke-width="0.4">ns</text>
<path d="M504.4 1829.7H681.6M504.4 1811.7V1847.7M681.6 1811.7V1847.7" fill="none" stroke="#000" stroke-width="6"/>
<text x="581.62" y="1830.7" font-size="40" stroke="#000" stroke-width="0.7">*</text>
<path d="M504.4 1885H587.3M504.4 1867V1903M587.3 1867V1903" fill="none" stroke="#000" stroke-width="6"/>
<text x="545" y="1861.3" font-size="34" text-anchor="middle" stroke="#000" stroke-width="0.4">ns</text>
<path d="M603.6 1885H682M603.6 1867V1903M682 1867V1903" fill="none" stroke="#000" stroke-width="6"/>
<text x="642.4" y="1861.3" font-size="34" text-anchor="middle" stroke="#000" stroke-width="0.4">ns</text>
<text x="345.7" y="2169.2" font-size="34.3" font-weight="bold" text-anchor="end" transform="rotate(-45 345.7 2169.2)">Veh</text>
<text x="429.7" y="2168.9" font-size="34.3" font-weight="bold" text-anchor="end" transform="rotate(-45 429.7 2168.9)">MDL</text>
<text x="520.1" y="2168.9" font-size="34.3" font-weight="bold" text-anchor="end" transform="rotate(-45 520.1 2168.9)">MPEP</text>
<text x="615.6" y="2169.4" font-size="34.3" font-weight="bold" text-anchor="end" transform="rotate(-45 615.6 2169.4)">MDL + MPEP</text>
<text x="688.3" y="2165.7" font-size="34.3" font-weight="bold" text-anchor="end" transform="rotate(-45 688.3 2165.7)">MOR</text>
</g>
<g id="panel-F">
<text x="802.5" y="1636" font-size="41.5" font-weight="bold">F</text>
<path d="M1053.5 1716.8L1053.5 2112" stroke="#000" stroke-width="6"/>
<path d="M1029 2109L1053.5 2109" stroke="#000" stroke-width="6"/>
<text x="1021.5" y="2118.8" font-size="33" font-weight="bold" text-anchor="end">0</text>
<path d="M1029 1979.2L1053.5 1979.2" stroke="#000" stroke-width="6"/>
<text x="1021.5" y="1989" font-size="33" font-weight="bold" text-anchor="end">200</text>
<path d="M1029 1849.4L1053.5 1849.4" stroke="#000" stroke-width="6"/>
<text x="1021.5" y="1859.2" font-size="33" font-weight="bold" text-anchor="end">400</text>
<path d="M1029 1719.6L1053.5 1719.6" stroke="#000" stroke-width="6"/>
<text x="1021.5" y="1729.4" font-size="33" font-weight="bold" text-anchor="end">600</text>
<text x="894.5" y="1935" font-size="33.3" font-weight="bold" text-anchor="middle" transform="rotate(-90 894.5 1935)">Cum. duration of licking</text>
<text x="935.6" y="1931.2" font-size="33.5" font-weight="bold" text-anchor="middle" transform="rotate(-90 935.6 1931.2)">during 15 ~ 40 min post formalin</text>
<rect x="1086" y="1920.8" width="53" height="188.2" fill="#808080" stroke="#000" stroke-width="6"/>
<rect x="1174.2" y="1993" width="53" height="116" fill="#a5a5aa" stroke="#000" stroke-width="6"/>
<rect x="1262.8" y="2040.2" width="53" height="68.8" fill="#858585" stroke="#000" stroke-width="6"/>
<rect x="1351.2" y="2104" width="53" height="5" fill="#d3d3d3" stroke="#000" stroke-width="6"/>
<rect x="1439.4" y="2085.6" width="53" height="23.4" fill="#3a3a3a" stroke="#000" stroke-width="6"/>
<path d="M1028 2109L1528 2109" stroke="#000" stroke-width="6"/>
<path d="M1111.6 2109L1111.6 2131.5" stroke="#000" stroke-width="6"/>
<path d="M1200 2109L1200 2131.5" stroke="#000" stroke-width="6"/>
<path d="M1288.7 2109L1288.7 2131.5" stroke="#000" stroke-width="6"/>
<path d="M1376.7 2109L1376.7 2131.5" stroke="#000" stroke-width="6"/>
<path d="M1465.1 2109L1465.1 2131.5" stroke="#000" stroke-width="6"/>
<path d="M1112.5 1893V1942.7M1098 1893H1127M1098 1942.7H1127" fill="none" stroke="#111" stroke-width="3.1"/>
<path d="M1200.7 1975V2005M1186.2 1975H1215.2M1186.2 2005H1215.2" fill="none" stroke="#111" stroke-width="3.1"/>
<path d="M1289.3 2011V2062.9M1274.8 2011H1303.8M1274.8 2062.9H1303.8" fill="none" stroke="#111" stroke-width="3.1"/>
<path d="M1465.9 2071.4V2096M1451.9 2071.4H1479.9M1451.9 2096H1479.9" fill="none" stroke="#111" stroke-width="3.1"/>
<circle cx="1112.5" cy="1788.6" r="9.1"/>
<circle cx="1112.5" cy="1862.5" r="9.1"/>
<circle cx="1092" cy="1910.2" r="9.1"/>
<circle cx="1112.6" cy="1911" r="9.1"/>
<circle cx="1133.2" cy="1911" r="9.1"/>
<circle cx="1112.7" cy="1964" r="9.1"/>
<circle cx="1122.7" cy="1991.8" r="9.1"/>
<circle cx="1102.4" cy="2001.2" r="9.1"/>
<rect x="1191.62" y="1898.62" width="18.15" height="18.15" fill="none" stroke="#000" stroke-width="5.85"/>
<rect x="1191.62" y="1926.12" width="18.15" height="18.15" fill="none" stroke="#000" stroke-width="5.85"/>
<rect x="1170.02" y="1973.33" width="18.15" height="18.15" fill="none" stroke="#000" stroke-width="5.85"/>
<rect x="1186.42" y="1972.42" width="18.15" height="18.15" fill="none" stroke="#000" stroke-width="5.85"/>
<rect x="1196.92" y="1972.42" width="18.15" height="18.15" fill="none" stroke="#000" stroke-width="5.85"/>
<rect x="1212.33" y="1973.33" width="18.15" height="18.15" fill="none" stroke="#000" stroke-width="5.85"/>
<rect x="1191.62" y="1989.92" width="18.15" height="18.15" fill="none" stroke="#000" stroke-width="5.85"/>
<rect x="1212.33" y="2006.22" width="18.15" height="18.15" fill="none" stroke="#000" stroke-width="5.85"/>
<rect x="1191.62" y="2016.62" width="18.15" height="18.15" fill="none" stroke="#000" stroke-width="5.85"/>
<rect x="1191.62" y="2046.73" width="18.15" height="18.15" fill="none" stroke="#000" stroke-width="5.85"/>
<path d="M1289.1 1909.45L1298.1 1927.95H1280.1Z"/>
<path d="M1289.1 1940.75L1298.1 1959.25H1280.1Z"/>
<path d="M1289.1 2000.45L1298.1 2018.95H1280.1Z"/>
<path d="M1289.1 2021.15L1298.1 2039.65H1280.1Z"/>
<path d="M1268.4 2079.35L1277.4 2097.85H1259.4Z"/>
<path d="M1289.1 2086.95L1298.1 2105.45H1280.1Z"/>
<path d="M1310.7 2089.75L1319.7 2108.25H1301.7Z"/>
<path d="M1268.4 2098.15L1277.4 2116.65H1259.4Z"/>
<path d="M1358 2110.75L1367 2092.25H1349Z"/>
<path d="M1366 2117.25L1375 2098.75H1357Z"/>
<path d="M1376.5 2112.25L1385.5 2093.75H1367.5Z"/>
<path d="M1385 2117.75L1394 2099.25H1376Z"/>
<path d="M1392 2113.25L1401 2094.75H1383Z"/>
<path d="M1398 2117.25L1407 2098.75H1389Z"/>
<path d="M1465.4 2003.25L1474.4 2012.5L1465.4 2021.75L1456.4 2012.5Z"/>
<path d="M1465.4 2048.35L1474.4 2057.6L1465.4 2066.85L1456.4 2057.6Z"/>
<path d="M1445 2093.75L1454 2103L1445 2112.25L1436 2103Z"/>
<path d="M1455 2097.75L1464 2107L1455 2116.25L1446 2107Z"/>
<path d="M1477.5 2098.25L1486.5 2107.5L1477.5 2116.75L1468.5 2107.5Z"/>
<path d="M1487 2091.75L1496 2101L1487 2110.25L1478 2101Z"/>
<path d="M1465 2088.75L1474 2098L1465 2107.25L1456 2098Z"/>
<path d="M1112.5 1666.5H1288.6M1112.5 1648.5V1684.5M1288.6 1648.5V1684.5" fill="none" stroke="#000" stroke-width="6"/>
<text x="1181.64" y="1664.7" font-size="40" stroke="#000" stroke-width="0.7" letter-spacing="4">**</text>
<path d="M1112.5 1737.9H1200.6M1112.5 1719.9V1755.9M1200.6 1719.9V1755.9" fill="none" stroke="#000" stroke-width="6"/>
<text x="1155.5" y="1715.4" font-size="34" text-anchor="middle" stroke="#000" stroke-width="0.4">ns</text>
<path d="M1200.6 1812.4H1377.6M1200.6 1794.4V1830.4M1377.6 1794.4V1830.4" fill="none" stroke="#000" stroke-width="6"/>
<text x="1261.56" y="1814.1" font-size="40" stroke="#000" stroke-width="0.7" letter-spacing="4">***</text>
<path d="M1288.6 1885.2H1371.8M1288.6 1867.2V1903.2M1371.8 1867.2V1903.2" fill="none" stroke="#000" stroke-width="6"/>
<text x="1329.8" y="1862" font-size="34" text-anchor="middle" stroke="#000" stroke-width="0.4">ns</text>
<path d="M1383.6 1885.2H1466M1383.6 1867.2V1903.2M1466 1867.2V1903.2" fill="none" stroke="#000" stroke-width="6"/>
<text x="1424.5" y="1862" font-size="34" text-anchor="middle" stroke="#000" stroke-width="0.4">ns</text>
<text x="1135.5" y="2164" font-size="35.4" font-weight="bold" text-anchor="end" transform="rotate(-45 1135.5 2164)">Veh</text>
<text x="1221.5" y="2162.5" font-size="35.4" font-weight="bold" text-anchor="end" transform="rotate(-45 1221.5 2162.5)">MDL</text>
<text x="1315" y="2162.3" font-size="35.4" font-weight="bold" text-anchor="end" transform="rotate(-45 1315 2162.3)">MPEP</text>
<text x="1413.9" y="2162.9" font-size="35.4" font-weight="bold" text-anchor="end" transform="rotate(-45 1413.9 2162.9)">MDL + MPEP</text>
<text x="1487.4" y="2159.3" font-size="35.4" font-weight="bold" text-anchor="end" transform="rotate(-45 1487.4 2159.3)">MOR</text>
</g>
</g>
</svg>
</body></html>
